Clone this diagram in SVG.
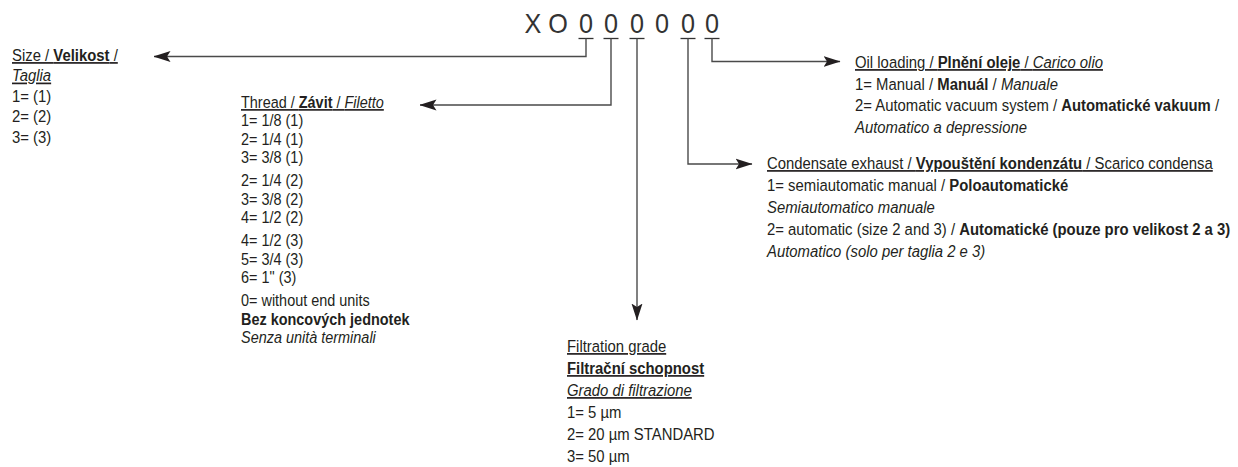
<svg xmlns="http://www.w3.org/2000/svg" width="1238" height="467" viewBox="0 0 1238 467">
<defs>
<style>
.t{font-family:"Liberation Sans",Arial,sans-serif;font-size:17px;fill:#231f20;}
.s{font-size:16.5px;}
.b{font-weight:bold;}
.i{font-style:italic;}
.u{text-decoration:underline;}
.code{font-family:"Liberation Sans",Arial,sans-serif;font-size:28px;fill:#333;text-anchor:middle;}
.ul{stroke:#333;stroke-width:1.3;}
.conn{fill:none;stroke:#4a4a4a;stroke-width:1.4;marker-end:url(#arr);}
</style>
<marker id="arr" markerUnits="userSpaceOnUse" markerWidth="17" markerHeight="12" viewBox="0 0 17 12" refX="16.5" refY="6" orient="auto">
<path d="M0,0.5 L17,6 L0,11.5 L3.5,6 Z" fill="#231f20"/>
</marker>
</defs>
<rect width="1238" height="467" fill="#fff"/>

<g id="code">
<g transform="translate(0,33) scale(0.9,1)">
<text class="code" x="592.2" y="0">X</text>
<text class="code" x="620" y="0">O</text>
<text class="code" x="651.1" y="0">0</text>
<text class="code" x="678.9" y="0">0</text>
<text class="code" x="707.8" y="0">0</text>
<text class="code" x="735.6" y="0">0</text>
<text class="code" x="764.4" y="0">0</text>
<text class="code" x="791.1" y="0">0</text>
</g>
<line class="ul" x1="578.5" y1="38.5" x2="593.5" y2="38.5"/>
<line class="ul" x1="603.5" y1="38.5" x2="618.5" y2="38.5"/>
<line class="ul" x1="629.5" y1="38.5" x2="644.5" y2="38.5"/>
<line class="ul" x1="680.5" y1="38.5" x2="695.5" y2="38.5"/>
<line class="ul" x1="704.5" y1="38.5" x2="719.5" y2="38.5"/>
</g>

<g id="connectors">
<polyline class="conn" points="586,38.5 586,56.5 154,56.5"/>
<polyline class="conn" points="611,38.5 611,105 420,105"/>
<polyline class="conn" points="637,38.5 637,320"/>
<polyline class="conn" points="688,38.5 688,164 752,164"/>
<polyline class="conn" points="712,38.5 712,61.5 840,61.5"/>
</g>

<g id="size" transform="translate(12,0) scale(0.875,1)">
<text class="t u" x="0" y="61">Size / <tspan class="b">Velikost</tspan> /</text>
<text class="t u i" x="0" y="81.5">Taglia</text>
<text class="t" x="0" y="102">1= (1)</text>
<text class="t" x="0" y="122.5">2= (2)</text>
<text class="t" x="0" y="143">3= (3)</text>
</g>

<g id="thread" transform="translate(241,0) scale(0.875,1)">
<text class="t s u" x="0" y="108">Thread / <tspan class="b">Závit</tspan> / <tspan class="i">Filetto</tspan></text>
<text class="t s" x="0" y="126.5">1= 1/8 (1)</text>
<text class="t s" x="0" y="145">2= 1/4 (1)</text>
<text class="t s" x="0" y="163.5">3= 3/8 (1)</text>
<text class="t s" x="0" y="186.5">2= 1/4 (2)</text>
<text class="t s" x="0" y="205">3= 3/8 (2)</text>
<text class="t s" x="0" y="223.5">4= 1/2 (2)</text>
<text class="t s" x="0" y="246.5">4= 1/2 (3)</text>
<text class="t s" x="0" y="265">5= 3/4 (3)</text>
<text class="t s" x="0" y="283.5">6= 1" (3)</text>
<text class="t s" x="0" y="306.5">0= without end units</text>
<text class="t s b" x="0" y="325">Bez koncových jednotek</text>
<text class="t s i" x="0" y="343.5">Senza unità terminali</text>
</g>

<g id="filtration" transform="translate(567,0) scale(0.875,1)">
<text class="t u" x="0" y="352">Filtration grade</text>
<text class="t u b" x="0" y="374">Filtrační schopnost</text>
<text class="t u i" x="0" y="396">Grado di filtrazione</text>
<text class="t" x="0" y="418">1= 5 µm</text>
<text class="t" x="0" y="440">2= 20 µm STANDARD</text>
<text class="t" x="0" y="462">3= 50 µm</text>
</g>

<g id="oil" transform="translate(855,0) scale(0.875,1)">
<text class="t u" x="0" y="68">Oil loading / <tspan class="b">Plnění oleje</tspan> / <tspan class="i">Carico olio</tspan></text>
<text class="t" x="0" y="90">1= Manual / <tspan class="b">Manuál</tspan> / <tspan class="i">Manuale</tspan></text>
<text class="t" x="0" y="111.5">2= Automatic vacuum system / <tspan class="b">Automatické vakuum</tspan> /</text>
<text class="t i" x="0" y="133">Automatico a depressione</text>
</g>

<g id="condensate" transform="translate(767,0) scale(0.875,1)">
<text class="t u" x="0" y="169">Condensate exhaust / <tspan class="b">Vypouštění kondenzátu</tspan> / Scarico condensa</text>
<text class="t" x="0" y="191">1= semiautomatic manual / <tspan class="b">Poloautomatické</tspan></text>
<text class="t i" x="0" y="213">Semiautomatico manuale</text>
<text class="t" x="0" y="235">2= automatic (size 2 and 3) / <tspan class="b">Automatické (pouze pro velikost 2 a 3)</tspan></text>
<text class="t i" x="0" y="257">Automatico (solo per taglia 2 e 3)</text>
</g>
</svg>
